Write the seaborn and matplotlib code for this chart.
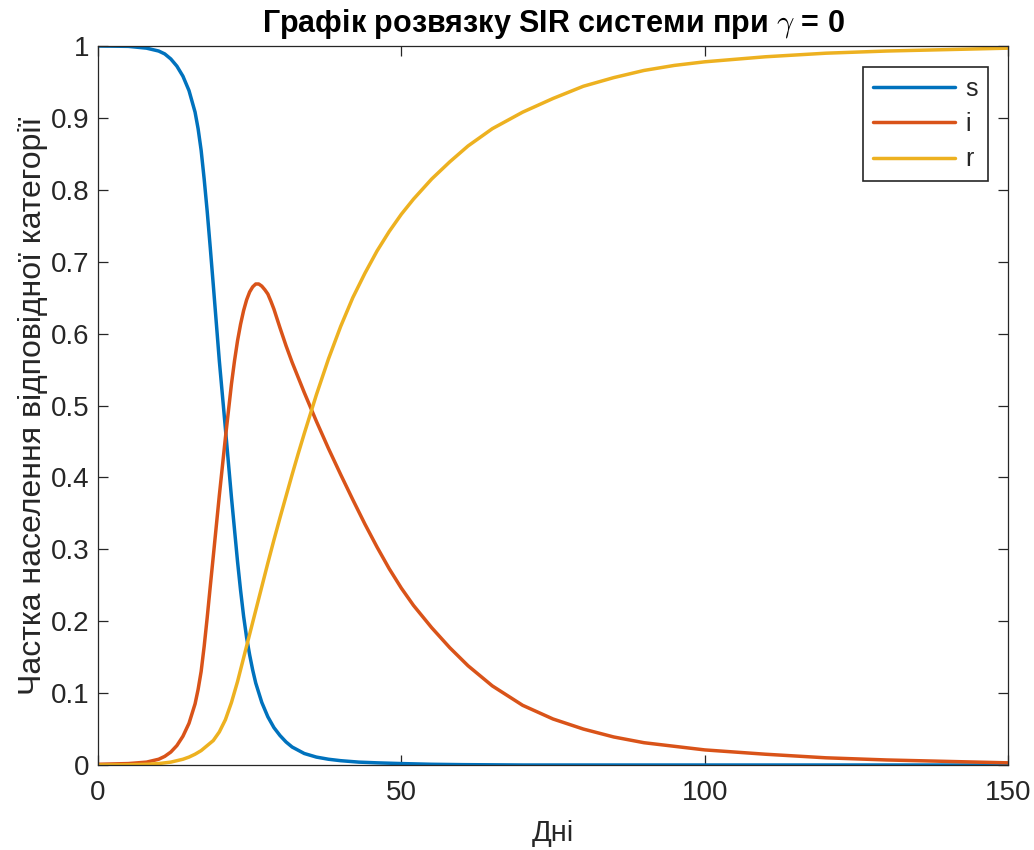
import matplotlib
matplotlib.use("Agg")
import matplotlib.pyplot as plt
import seaborn as sns
import pandas as pd

# ---- data ----
s_days = [0, 5, 8, 10, 11, 12, 13, 14, 15, 16,
          16.5, 17, 17.5, 18, 18.5, 19, 20, 21, 22, 23,
          23.5, 24, 24.5, 25, 25.5, 26, 27, 28, 29, 30,
          31, 32, 34, 36, 38, 40, 43, 46, 50, 55,
          60, 70, 80, 100, 120, 150]
s_vals = [1.0, 0.9995, 0.997, 0.993, 0.989, 0.982, 0.972, 0.958, 0.938, 0.908,
          0.885, 0.855, 0.815, 0.77, 0.72, 0.668, 0.562, 0.468, 0.372, 0.283,
          0.243, 0.207, 0.177, 0.153, 0.132, 0.114, 0.087, 0.067, 0.052, 0.041,
          0.032, 0.025, 0.016, 0.011, 0.008, 0.006, 0.004, 0.003, 0.002, 0.001,
          0.0005, 0.0, 0.0, 0.0, 0.0, 0.0]

i_days = [0, 5, 8, 10, 11, 12, 13, 14, 15, 16,
          16.5, 17, 17.5, 18, 18.5, 19, 20, 21, 22, 22.5,
          23, 23.5, 24, 24.5, 25, 25.5, 26, 26.5, 27, 27.5,
          28, 28.5, 29, 30, 31, 32, 33, 34, 35, 36,
          38, 40, 42, 44, 46, 48, 50, 52, 55, 58,
          61, 65, 70, 75, 80, 85, 90, 95, 100, 110,
          120, 130, 140, 150]
i_vals = [0.001, 0.002, 0.004, 0.008, 0.012, 0.018, 0.027, 0.04, 0.058, 0.085,
          0.105, 0.13, 0.165, 0.205, 0.248, 0.29, 0.375, 0.455, 0.53, 0.562,
          0.59, 0.613, 0.632, 0.647, 0.658, 0.665, 0.669, 0.669, 0.666, 0.661,
          0.655, 0.645, 0.634, 0.608, 0.583, 0.56, 0.539, 0.518, 0.498, 0.478,
          0.44, 0.404, 0.369, 0.335, 0.303, 0.273, 0.246, 0.222, 0.191, 0.163,
          0.138, 0.11, 0.083, 0.064, 0.05, 0.039, 0.031, 0.026, 0.021, 0.015,
          0.01, 0.007, 0.005, 0.003]

r_days = [0, 5, 8, 10, 12, 14, 15, 16, 17, 18,
          19, 20, 21, 22, 23, 24, 25, 26, 27, 28,
          29, 30, 31, 32, 33, 34, 36, 38, 40, 42,
          44, 46, 48, 50, 52, 55, 58, 61, 65, 70,
          75, 80, 85, 90, 95, 100, 110, 120, 130, 140,
          150]
r_vals = [0.0, 0.0003, 0.001, 0.002, 0.004, 0.008, 0.011, 0.015, 0.02, 0.027,
          0.034, 0.046, 0.063, 0.087, 0.116, 0.149, 0.182, 0.215, 0.248, 0.281,
          0.313, 0.344, 0.374, 0.404, 0.433, 0.461, 0.515, 0.565, 0.61, 0.65,
          0.684, 0.715, 0.742, 0.766, 0.787, 0.815, 0.839, 0.861, 0.885, 0.908,
          0.927, 0.944, 0.956, 0.966, 0.973, 0.978, 0.985, 0.99, 0.993, 0.995,
          0.997]

series_names = ["s", "i", "r"]
colors = ["#0072BD", "#D95319", "#EDB120"]
x_ticks = [0, 50, 100, 150]
y_ticks = [0, 0.1, 0.2, 0.3, 0.4, 0.5, 0.6, 0.7, 0.8, 0.9, 1]
y_tick_labels = ["0", "0.1", "0.2", "0.3", "0.4", "0.5", "0.6", "0.7", "0.8", "0.9", "1"]

title_text = "Графік розвязку SIR системи при $\\gamma$ = 0"
x_label = "Дні"
y_label = "Частка населення відповідної категорії"

# ---- build long-form frame ----
df = pd.concat([
    pd.DataFrame({"day": s_days, "value": s_vals, "series": "s"}),
    pd.DataFrame({"day": i_days, "value": i_vals, "series": "i"}),
    pd.DataFrame({"day": r_days, "value": r_vals, "series": "r"}),
], ignore_index=True)

sns.set_theme(style="white")
plt.rcParams["font.family"] = ["Liberation Sans", "DejaVu Sans"]
plt.rcParams["mathtext.fontset"] = "cm"

fig = plt.figure(figsize=(10.34, 8.5), dpi=100)
ax = fig.add_axes([98 / 1034, 1 - 765 / 850, 910 / 1034, 719 / 850])

sns.lineplot(data=df, x="day", y="value", hue="series", hue_order=series_names,
             palette=colors, linewidth=2.5, ax=ax, sort=True, estimator=None)

ax.set_xlim(0, 150)
ax.set_ylim(0, 1)
ax.set_xticks(x_ticks)
ax.set_xticklabels([str(t) for t in x_ticks])
ax.set_yticks(y_ticks)
ax.set_yticklabels(y_tick_labels)

for sp in ax.spines.values():
    sp.set_visible(True)
    sp.set_color("#262626")
    sp.set_linewidth(0.9)

ax.tick_params(axis="both", which="both", direction="in", length=7, width=0.9,
               color="#262626", labelcolor="#262626", labelsize=20,
               top=True, right=True, bottom=True, left=True)
ax.tick_params(axis="x", pad=11)
ax.tick_params(axis="y", pad=6)

ax.set_xlabel(x_label, fontsize=21, color="#262626", labelpad=9)
ax.set_ylabel(y_label, fontsize=23, color="#262626", labelpad=2)
ax.set_title(title_text, fontsize=22, fontweight="bold", color="black", pad=10)

handles, labels = ax.get_legend_handles_labels()
leg = ax.legend(handles, labels, loc="upper right", bbox_to_anchor=(0.978, 0.971),
                borderaxespad=0, fontsize=18, handlelength=3.3, frameon=True,
                fancybox=False, framealpha=1, edgecolor="#262626",
                labelspacing=0.45, handletextpad=0.4, borderpad=0.4)
leg.get_frame().set_linewidth(1.2)
for h in leg.get_lines():
    h.set_linewidth(2.5)

fig.savefig("out.png", dpi=100)
